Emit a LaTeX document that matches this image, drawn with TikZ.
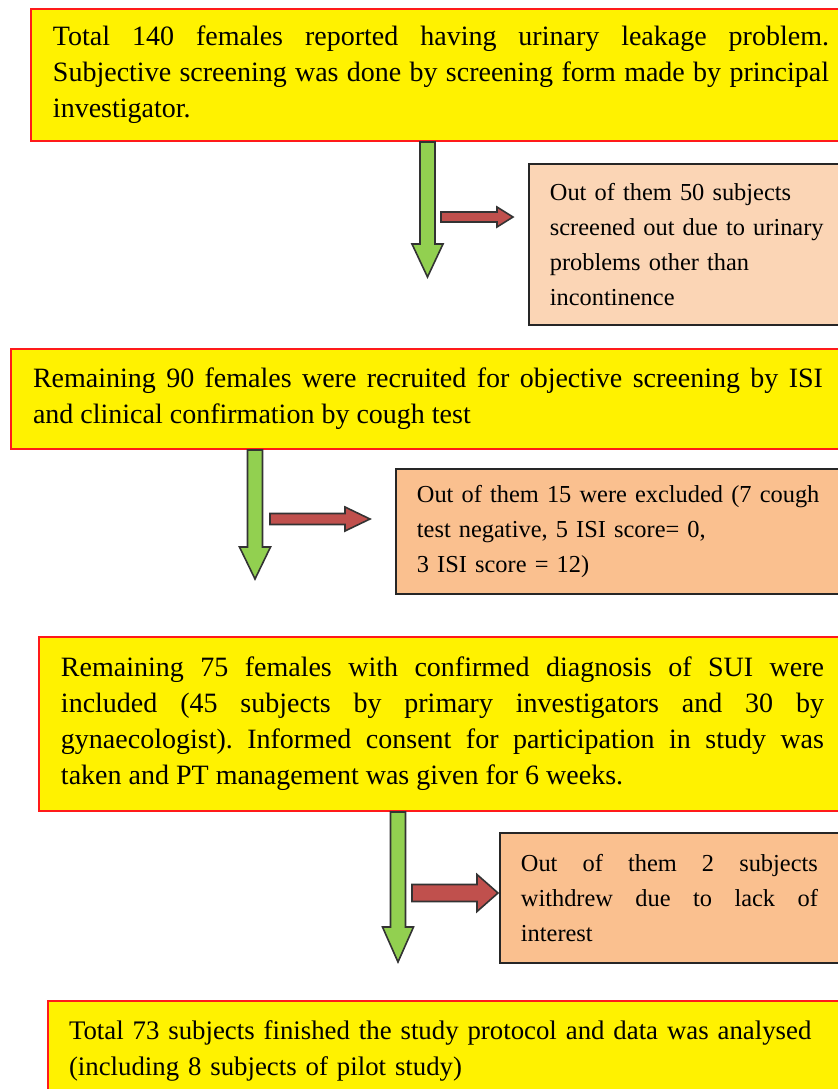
\documentclass[tikz,border=0pt]{standalone}
\usepackage{fontspec}
\setmainfont{Liberation Serif}
\usetikzlibrary{calc}
\definecolor{stagered}{HTML}{FF1A1A}
\definecolor{lightpeach}{HTML}{FBD5B5}
\definecolor{peach}{HTML}{FAC08F}
\definecolor{arrowgreen}{HTML}{92D050}
\definecolor{arrowred}{HTML}{C0504D}
\tolerance=9999
\hbadness=10000
\hyphenpenalty=10000
\frenchspacing

\begin{document}
\begin{tikzpicture}
	[x=0.5pt,y=-0.5pt,
	stagebox/.style={draw=stagered, fill=yellow, line width=1pt, anchor=north west, inner xsep=11pt, inner ysep=0pt, align=justify, font=\fontsize{14}{18}\selectfont},
	dropbox/.style={draw=black!85, line width=0.9pt, anchor=north west, inner xsep=10.5pt, inner ysep=0pt, align=left, font=\fontsize{12.2}{17.5}\selectfont},
	downarrow/.style={draw=black!80, fill=arrowgreen, line width=0.8pt},
	sidearrow/.style={draw=black!80, fill=arrowred, line width=0.8pt}]
	\useasboundingbox (0,0) rectangle (837,1089);
	
	% main stages
	\node[stagebox, text width=388pt, minimum height=66pt] (s1) at (30,8) {Total 140 females reported having urinary leakage problem.\linebreak Subjective screening was done by screening form made by principal\linebreak investigator.};
	\node[stagebox, text width=395pt, minimum height=50pt] (s2) at (10,348) {Remaining 90 females were recruited for objective screening by ISI\linebreak and clinical confirmation by cough test};
	\node[stagebox, text width=381.5pt, minimum height=87pt] (s3) at (38,636) {Remaining 75 females with confirmed diagnosis of SUI were\linebreak included (45 subjects by primary investigators and 30 by\linebreak gynaecologist). Informed consent for participation in study was\linebreak taken and PT management was given for 6 weeks.};
	\node[stagebox, text width=410pt, minimum height=50pt, inner xsep=10.5pt, align=left, font=\fontsize{13.4}{18}\selectfont] (s4) at (47,1000) {Total 73 subjects finished the study protocol and data was analysed\\(including 8 subjects of pilot study)};
	
	% dropped out
	\node[dropbox, fill=lightpeach, text width=160pt, minimum height=80.5pt] (d1) at (528,163) {Out of them 50 subjects\\screened out due to urinary\\problems other than\\incontinence};
	\node[dropbox, fill=peach, text width=215pt, minimum height=62.5pt] (d2) at (395,468) {Out of them 15 were excluded (7 cough\\test negative, 5 ISI score= 0,\\3 ISI score = 12)};
	\node[dropbox, fill=peach, text width=148.5pt, minimum height=65pt, align=justify] (d3) at (499,832) {Out of them 2 subjects\linebreak withdrew due to lack of\linebreak interest};
	
	\coordinate (g1) at ($(s1.south west)+(397.5,0)$);
	\coordinate (g2) at ($(s2.south west)+(245,0)$);
	\coordinate (g3) at ($(s3.south west)+(360,0)$);
	\coordinate (r1) at (441,217);
	\coordinate (r2) at (270,519);
	\coordinate (r3) at (412,893);
	
	\foreach \n/\len/\hl in {1/135/33, 2/129/32, 3/150/35}
		\draw[downarrow] (g\n) ++(-7.5,0) -- ++(0,\len-\hl) -- ++(-8,0) -- ++(15.5,\hl) -- ++(15.5,-\hl) -- ++(-8,0) -- ++(0,\hl-\len) -- cycle;
	
	\foreach \n/\len/\hl/\w/\hw in {1/72/16/5/10, 2/100/25/5.5/12, 3/86/21/8.5/18.5}
		\draw[sidearrow] (r\n) ++(0,-\w) -- ++(\len-\hl,0) -- ++(0,\w-\hw) -- ++(\hl,\hw) -- ++(-\hl,\hw) -- ++(0,\w-\hw) -- ++(\hl-\len,0) -- cycle;
\end{tikzpicture}
\end{document}
